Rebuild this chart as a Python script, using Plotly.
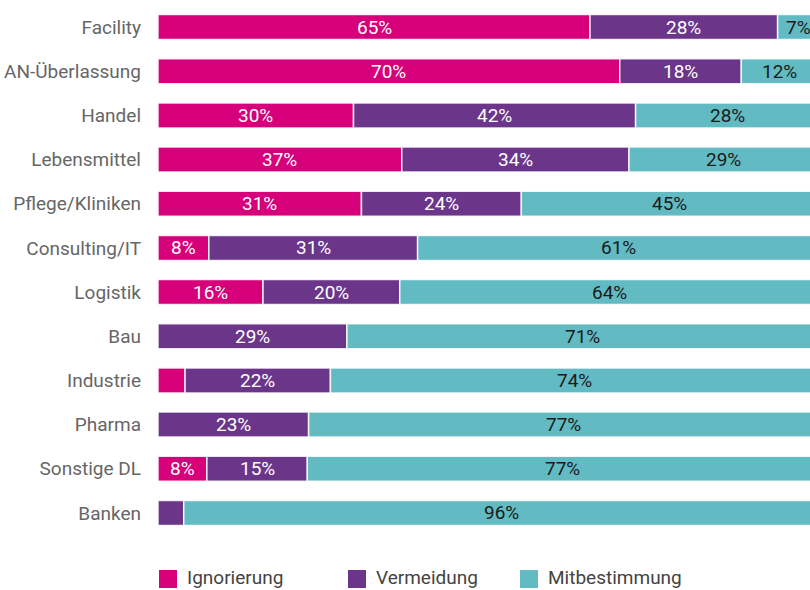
import plotly.graph_objects as go

categories = ["Facility", "AN-Überlassung", "Handel", "Lebensmittel", "Pflege/Kliniken",
              "Consulting/IT", "Logistik", "Bau", "Industrie", "Pharma", "Sonstige DL", "Banken"]

series_names = ["Ignorierung", "Vermeidung", "Mitbestimmung"]

ignorierung = [65.4, 69.9, 29.6, 36.9, 30.8, 7.7, 15.9, 0.0, 4.1, 0.0, 7.4, 0.0]
vermeidung = [28.4, 18.4, 42.7, 34.4, 24.2, 31.6, 20.7, 28.6, 22.0, 22.8, 15.2, 3.9]
mitbestimmung = [6.2, 11.7, 27.7, 28.7, 45.0, 60.7, 63.4, 71.4, 73.9, 77.2, 77.4, 96.1]

ignorierung_labels = ["65%", "70%", "30%", "37%", "31%", "8%", "16%", "", "", "", "8%", ""]
vermeidung_labels = ["28%", "18%", "42%", "34%", "24%", "31%", "20%", "29%", "22%", "23%", "15%", ""]
mitbestimmung_labels = ["7%", "12%", "28%", "29%", "45%", "61%", "64%", "71%", "74%", "77%", "77%", "96%"]

colors = ["#D5007A", "#6B3689", "#62BAC3"]
label_colors = ["#FFFFFF", "#FFFFFF", "#1A1A1A"]

FONT = "Roboto, Liberation Sans, sans-serif"

series = [ignorierung, vermeidung, mitbestimmung]
labels = [ignorierung_labels, vermeidung_labels, mitbestimmung_labels]

fig = go.Figure()
annotations = []
base = [0.0] * len(categories)
for name, vals, labs, col, lcol in zip(series_names, series, labels, colors, label_colors):
    fig.add_trace(go.Bar(
        y=categories, x=vals, base=base[:], name=name, orientation="h",
        marker=dict(color=col, line=dict(color="rgba(255,255,255,0.85)", width=1.5)),
        showlegend=False, hoverinfo="x+y+name",
    ))
    for i, (v, lab) in enumerate(zip(vals, labs)):
        if lab:
            annotations.append(dict(
                x=base[i] + v / 2, y=categories[i], xref="x", yref="y",
                text=lab, showarrow=False,
                font=dict(family=FONT, size=19, color=lcol),
            ))
    base = [b + v for b, v in zip(base, vals)]

# custom legend (squares + text) below the plot
W, H = 810, 590
ml, mr, mt, mb = 158, 0, 5, 55
pw, ph = W - ml - mr, H - mt - mb
legend_x = [159, 348, 520]
shapes = []
for name, col, lx in zip(series_names, colors, legend_x):
    x0 = (lx - ml) / pw
    x1 = (lx + 18 - ml) / pw
    y0 = (H - mb - 588) / ph
    y1 = (H - mb - 570) / ph
    shapes.append(dict(type="rect", xref="paper", yref="paper", x0=x0, x1=x1, y0=y0, y1=y1,
                       fillcolor=col, line=dict(width=0)))
    annotations.append(dict(
        x=(lx + 26 - ml) / pw, y=(H - mb - 577) / ph, xref="paper", yref="paper",
        xanchor="left", yanchor="middle", text=name, showarrow=False,
        font=dict(family=FONT, size=19, color="#444444"),
    ))

fig.update_layout(
    width=W, height=H,
    margin=dict(l=ml, r=mr, t=mt, b=mb, pad=0, autoexpand=False),
    paper_bgcolor="white", plot_bgcolor="white",
    barmode="overlay", bargap=0.433,
    xaxis=dict(range=[0, 98.7], showgrid=False, zeroline=False, showticklabels=False,
               showline=False, fixedrange=True),
    yaxis=dict(autorange="reversed", showgrid=False, zeroline=False, showline=False,
               ticks="", ticklabelstandoff=16, automargin=False,
               tickfont=dict(family=FONT, size=19, color="#666666")),
    annotations=annotations, shapes=shapes,
    font=dict(family=FONT),
)

fig.write_html("out.html", config={"displayModeBar": False},
               post_script="document.body.style.margin='0px';document.body.style.overflow='hidden';")
